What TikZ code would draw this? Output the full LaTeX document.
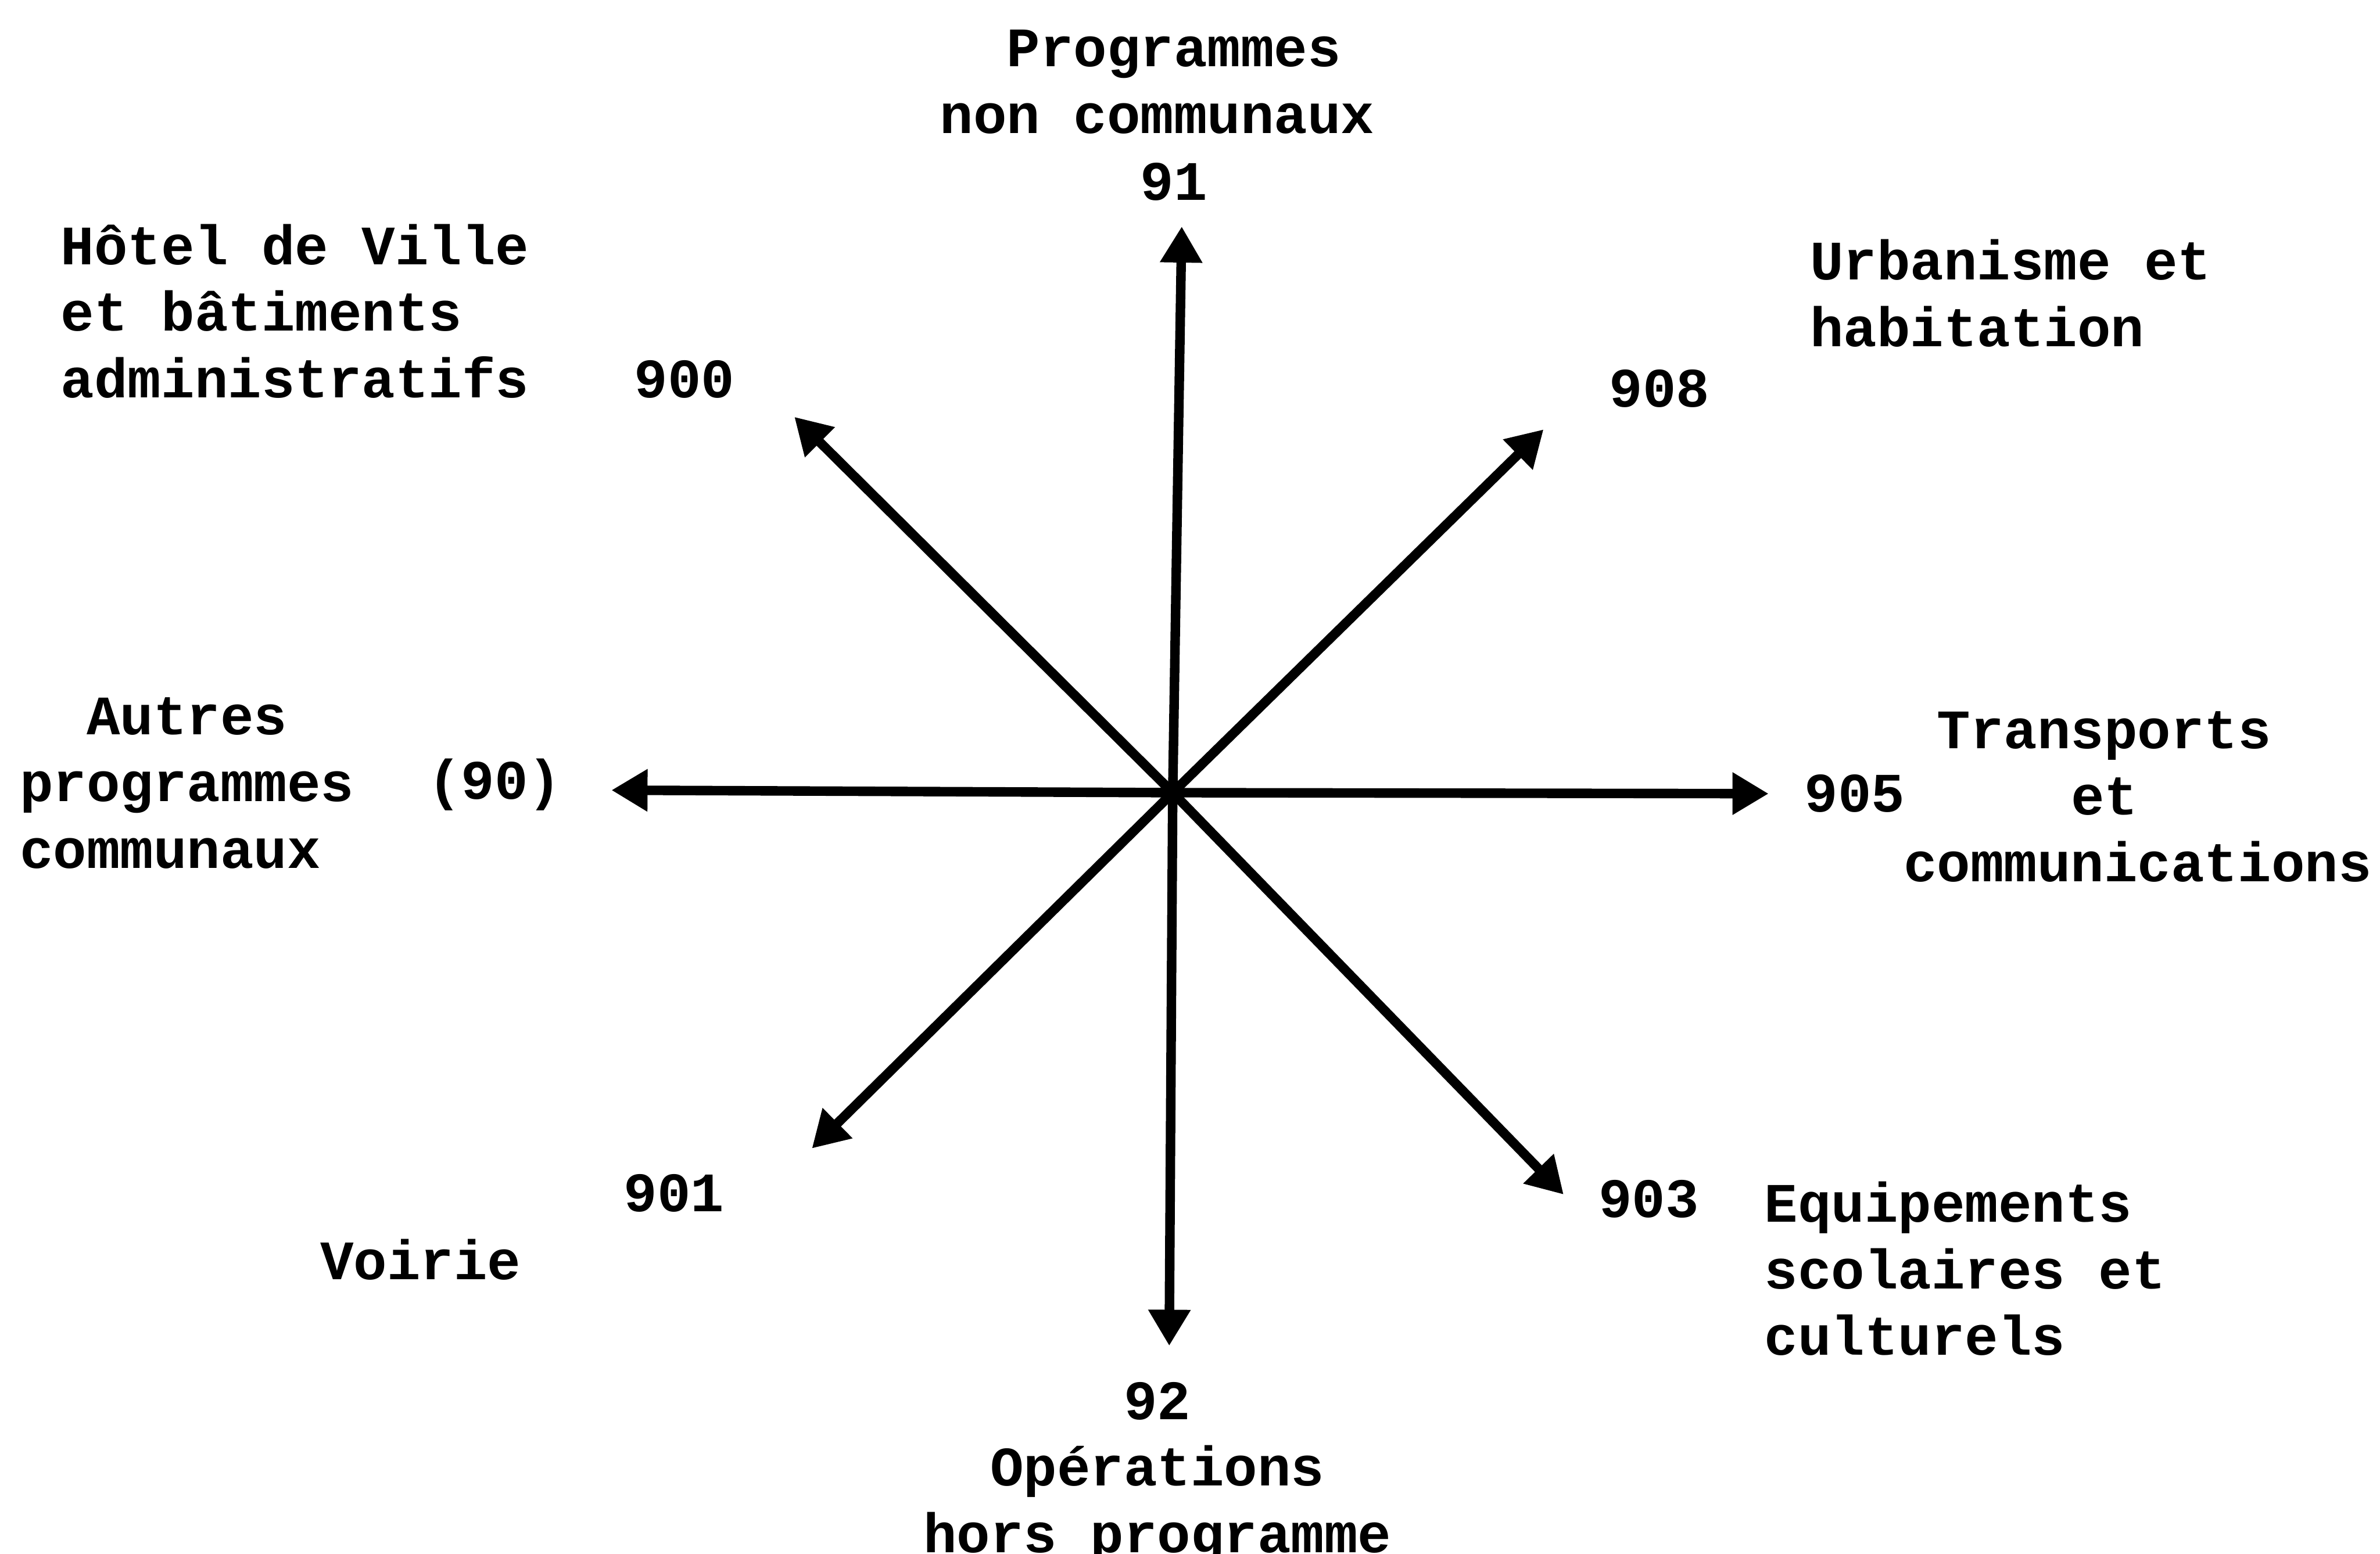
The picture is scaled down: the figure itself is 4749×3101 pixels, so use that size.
\documentclass[tikz,border=0pt]{standalone}
\usepackage{fontspec}
\setmonofont{Liberation Mono}
\usetikzlibrary{arrows.meta}

\begin{document}
\begin{tikzpicture}[x=0.01cm,y=-0.01cm,
        pfeil/.style={line width=5.4pt,-{Triangle[length=0.72cm,width=0.8cm]}},
        etikett/.style={inner sep=0pt,align=left,font=\ttfamily\bfseries\fontsize{31.6}{37.8}\selectfont}]
        \useasboundingbox (0,0) rectangle (4749,3101);
        \coordinate (mitte) at (2340,1582);
        \foreach \n/\x/\y in {p91/2358/452,p92/2333/2686,p90/1220/1577,p905/3529/1584,
                             p900/1585/832,p908/3080/857,p901/1620/2292,p903/3120/2384} {
            \coordinate (\n) at (\x,\y);
        }
        \foreach \n in {p91,p92,p90,p905,p900,p908,p901,p903} {
            \draw[pfeil] (mitte) -- (\n);
        }
        \node[etikett,anchor=west] (t91) at (1875,230) {\phantom{xx}Programmes\\non communaux\\\phantom{xxxxxx}91};
        \node[etikett,anchor=west] (t92) at (1842,2940) {\phantom{xxxxxx}92\\\phantom{xx}Opérations\\hors programme};
        \node[etikett,anchor=west] (t900) at (121,621) {Hôtel de Ville\\et bâtiments\\administratifs};
        \node[etikett] (n900) at (1366,757) {900};
        \node[etikett,anchor=west] (t908) at (3611,585) {Urbanisme et\\habitation};
        \node[etikett] (n908) at (3311,775) {908};
        \node[etikett,anchor=west] (t90) at (39,1563) {\phantom{xx}Autres\\programmes\\communaux};
        \node[etikett] (n90) at (987,1566) {(90)};
        \node[etikett] (n905) at (3701,1584) {905};
        \node[etikett,anchor=west] (t905) at (3798,1590) {\phantom{x}Transports\\\phantom{xxxxx}et\\communications};
        \node[etikett] (n901) at (1345,2381) {901};
        \node[etikett] (t901) at (839,2514) {Voirie};
        \node[etikett] (n903) at (3290,2393) {903};
        \node[etikett,anchor=west] (t903) at (3520,2532) {Equipements\\scolaires et\\culturels};
    \end{tikzpicture}
\end{document}
